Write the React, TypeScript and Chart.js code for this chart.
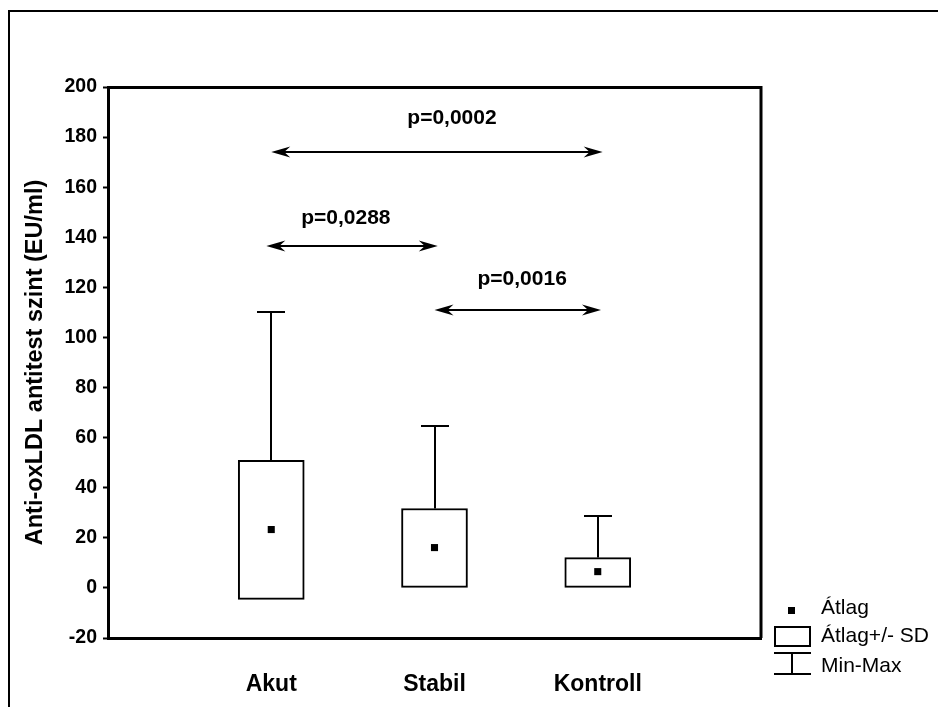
import React, { useEffect, useRef } from 'react';
import { Chart, registerables } from 'chart.js';

Chart.register(...registerables);

const FONT = '"Liberation Sans", Arial, Helvetica, sans-serif';

const categories = ['Akut', 'Stabil', 'Kontroll'];
const means = [23.3, 16.1, 6.5];
const sdLow = [-4.6, 0, 0];
const sdHigh = [50.9, 31.7, 12.1];
const maxValues = [110, 64.8, 28.9];

const pLabels = ['p=0,0002', 'p=0,0288', 'p=0,0016'];
const arrowFrom = [1.0, 0.97, 2.0];
const arrowTo = [3.03, 2.02, 3.02];
const arrowY = [174, 136.5, 111];
const pLabelX = [2.107, 1.457, 2.537];
const pLabelY = [187.4, 147.5, 123.1];

const yTitle = 'Anti-oxLDL antitest szint (EU/ml)';
const legendLabels = ['Átlag', 'Átlag+/- SD', 'Min-Max'];

function arrowHead(ctx: CanvasRenderingContext2D, tipX: number, y: number, dir: number) {
  const L = 19, W = 5.5, N = 13;
  ctx.beginPath();
  ctx.moveTo(tipX, y);
  ctx.lineTo(tipX - dir * L, y - W);
  ctx.lineTo(tipX - dir * N, y);
  ctx.lineTo(tipX - dir * L, y + W);
  ctx.closePath();
  ctx.fill();
}

const overlay = {
  id: 'overlay',
  beforeDraw(chart: any) {
    const ctx = chart.ctx as CanvasRenderingContext2D;
    ctx.save();
    ctx.fillStyle = '#fff';
    ctx.fillRect(0, 0, chart.width, chart.height);
    ctx.strokeStyle = '#000';
    ctx.lineWidth = 2;
    ctx.beginPath();
    ctx.moveTo(9, chart.height);
    ctx.lineTo(9, 11);
    ctx.lineTo(chart.width, 11);
    ctx.stroke();
    ctx.restore();
  },
  afterDatasetsDraw(chart: any) {
    const ctx = chart.ctx as CanvasRenderingContext2D;
    const xs = chart.scales.x;
    const ys = chart.scales.y;
    const ca = chart.chartArea;
    ctx.save();
    ctx.strokeStyle = '#000';
    ctx.fillStyle = '#000';

    // plot frame top & right
    ctx.lineWidth = 3;
    ctx.beginPath();
    ctx.moveTo(ca.left, ca.top + 0.5);
    ctx.lineTo(ca.right, ca.top + 0.5);
    ctx.lineTo(ca.right, ca.bottom);
    ctx.stroke();

    // whiskers
    ctx.lineWidth = 2;
    categories.forEach((_, i) => {
      const x = Math.round(xs.getPixelForValue(i + 1));
      const y0 = ys.getPixelForValue(sdHigh[i]);
      const y1 = Math.round(ys.getPixelForValue(maxValues[i]));
      ctx.beginPath();
      ctx.moveTo(x, y0);
      ctx.lineTo(x, y1);
      ctx.moveTo(x - 14, y1);
      ctx.lineTo(x + 14, y1);
      ctx.stroke();
    });

    // arrows
    pLabels.forEach((lab, i) => {
      const x1 = xs.getPixelForValue(arrowFrom[i]);
      const x2 = xs.getPixelForValue(arrowTo[i]);
      const y = Math.round(ys.getPixelForValue(arrowY[i]));
      ctx.lineWidth = 2;
      ctx.beginPath();
      ctx.moveTo(x1 + 12, y);
      ctx.lineTo(x2 - 12, y);
      ctx.stroke();
      arrowHead(ctx, x1, y, -1);
      arrowHead(ctx, x2, y, 1);
      ctx.font = `bold 21px ${FONT}`;
      ctx.textAlign = 'center';
      ctx.textBaseline = 'middle';
      ctx.fillText(lab, xs.getPixelForValue(pLabelX[i]), ys.getPixelForValue(pLabelY[i]));
    });

    // category labels
    ctx.font = `bold 23px ${FONT}`;
    ctx.textAlign = 'center';
    ctx.textBaseline = 'middle';
    categories.forEach((c, i) => {
      ctx.fillText(c, xs.getPixelForValue(i + 1), 685);
    });

    // legend
    ctx.fillRect(788, 607, 7, 7);
    ctx.lineWidth = 2;
    ctx.strokeRect(775, 627, 35, 19);
    ctx.beginPath();
    ctx.moveTo(774, 653);
    ctx.lineTo(811, 653);
    ctx.moveTo(792, 653);
    ctx.lineTo(792, 674);
    ctx.moveTo(774, 674);
    ctx.lineTo(811, 674);
    ctx.stroke();
    ctx.font = `21px ${FONT}`;
    ctx.textAlign = 'left';
    ctx.textBaseline = 'alphabetic';
    ctx.fillText(legendLabels[0], 821, 614);
    ctx.fillText(legendLabels[1], 821, 642);
    ctx.fillText(legendLabels[2], 821, 672);
    ctx.restore();
  },
};

export default function App() {
  const ref = useRef<HTMLCanvasElement | null>(null);
  useEffect(() => {
    if (!ref.current) return;
    Chart.defaults.font.family = FONT;
    const chart = new Chart(ref.current, {
      type: 'bar',
      data: {
        datasets: [
          {
            type: 'scatter',
            data: means.map((m, i) => ({ x: i + 1, y: m })),
            pointStyle: 'rect',
            pointRadius: 5,
            pointBorderWidth: 0,
            backgroundColor: '#000',
            borderColor: '#000',
            showLine: false,
          } as any,
          {
            type: 'bar',
            data: categories.map((_, i) => ({ x: i + 1, y: [sdLow[i], sdHigh[i]] })),
            backgroundColor: '#fff',
            borderColor: '#000',
            borderWidth: 2,
            borderSkipped: false,
            barThickness: 66,
          } as any,
        ],
      },
      options: {
        responsive: false,
        devicePixelRatio: 1,
        animation: false,
        layout: { padding: { left: 0, top: 87, right: 177, bottom: 0 } },
        plugins: { legend: { display: false }, tooltip: { enabled: false } },
        scales: {
          x: {
            type: 'linear',
            min: 0,
            max: 4,
            offset: false,
            ticks: { display: false },
            grid: { display: false, offset: false },
            border: { display: true, color: '#000', width: 3 },
            afterFit(s: any) {
              s.height = 69;
            },
          },
          y: {
            type: 'linear',
            min: -20,
            max: 200,
            ticks: {
              stepSize: 20,
              color: '#000',
              padding: 6,
              font: { family: FONT, size: 19.5, weight: 'bold' },
            },
            grid: {
              drawOnChartArea: false,
              drawTicks: true,
              tickLength: 5,
              tickWidth: 2,
              tickColor: '#000',
            },
            border: { display: true, color: '#000', width: 3 },
            title: {
              display: true,
              text: yTitle,
              color: '#000',
              font: { family: FONT, size: 23.5, weight: 'bold' },
              padding: { top: 21, bottom: 0 },
            },
            afterFit(s: any) {
              s.width = 108;
            },
          },
        },
      } as any,
      plugins: [overlay],
    });
    return () => chart.destroy();
  }, []);
  return (
    <div style={{ position: 'absolute', left: 0, top: 0, width: 938, height: 707, background: '#fff' }}>
      <canvas ref={ref} width={938} height={707} style={{ display: 'block' }} />
    </div>
  );
}
